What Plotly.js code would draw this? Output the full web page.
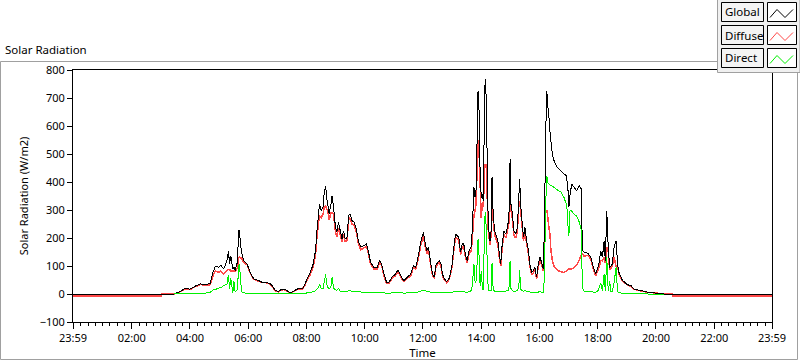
<!DOCTYPE html>
<html>
<head>
<meta charset="utf-8">
<script src="https://cdn.plot.ly/plotly-3.0.1.min.js"></script>
<style>html,body{margin:0;padding:0;background:#fff;}#chart{width:800px;height:361px;}
#chart .scatterlayer path.js-line{shape-rendering:crispEdges;}</style>
</head>
<body>
<div id="chart"></div>
<script>
// ---- data (hours after midnight; 23:59 of previous day = -1/60) ----
const timeHours = [-0.0167,3.00,3.04,3.46,3.66,3.83,4.00,4.18,4.35,4.52,4.69,4.79,4.87,4.98,5.06,5.16,5.27,5.32,5.36,5.40,5.47,5.51,5.55,5.63,5.67,5.70,5.73,5.77,5.84,5.96,6.07,6.19,6.36,6.47,6.63,6.76,6.82,6.93,7.04,7.10,7.22,7.33,7.44,7.62,7.73,7.85,7.93,8.02,8.13,8.23,8.31,8.36,8.42,8.45,8.50,8.57,8.61,8.66,8.69,8.73,8.78,8.84,8.88,8.93,8.99,9.04,9.10,9.16,9.22,9.27,9.33,9.39,9.45,9.50,9.56,9.64,9.71,9.79,9.87,9.97,10.06,10.12,10.20,10.31,10.43,10.51,10.58,10.66,10.75,10.83,10.95,11.06,11.14,11.21,11.29,11.35,11.46,11.58,11.67,11.75,11.83,11.93,12.02,12.06,12.13,12.19,12.27,12.33,12.39,12.44,12.50,12.56,12.62,12.67,12.73,12.81,12.89,12.95,13.00,13.06,13.12,13.18,13.23,13.29,13.35,13.40,13.46,13.52,13.58,13.66,13.69,13.75,13.79,13.82,13.86,13.89,13.92,13.96,14.00,14.04,14.07,14.12,14.14,14.17,14.21,14.24,14.30,14.34,14.37,14.41,14.46,14.53,14.57,14.62,14.67,14.72,14.78,14.84,14.90,14.95,14.99,15.02,15.07,15.12,15.18,15.24,15.29,15.32,15.35,15.39,15.45,15.50,15.56,15.62,15.67,15.73,15.79,15.84,15.90,15.96,16.02,16.07,16.13,16.17,16.21,16.25,16.28,16.33,16.36,16.39,16.44,16.47,16.50,16.61,16.73,16.84,16.92,16.95,16.98,17.01,17.05,17.11,17.19,17.28,17.36,17.44,17.47,17.53,17.67,17.76,17.85,17.93,18.01,18.06,18.10,18.16,18.22,18.26,18.31,18.36,18.41,18.45,18.50,18.56,18.63,18.68,18.73,18.85,18.93,19.02,19.14,19.25,19.48,19.71,19.94,20.27,20.29,20.55,20.57,23.983];

const globalWm2 = [0,0,0,0,9,20,17,28,36,33,38,77,99,96,102,90,119,152,108,137,90,95,84,115,226,229,180,150,119,107,77,54,48,42,42,36,30,12,10,14,18,12,4,14,20,18,30,54,77,107,155,226,292,321,298,310,363,387,345,321,286,321,351,310,244,220,256,226,196,226,196,202,280,286,262,256,232,185,167,173,179,155,113,95,95,119,107,71,42,42,62,71,86,71,54,48,60,71,101,95,131,190,220,190,155,167,107,71,60,101,113,119,107,71,54,45,54,77,107,167,214,208,202,149,179,179,137,119,155,169,226,381,345,369,560,726,679,440,345,357,333,726,768,702,440,250,190,226,417,286,226,202,190,143,107,179,226,214,238,274,482,321,286,226,214,238,345,411,321,274,202,238,190,155,107,77,83,95,60,107,131,113,89,240,560,726,679,625,580,548,500,488,476,452,440,429,423,400,369,310,357,393,381,369,387,375,155,149,145,131,95,71,95,120,155,131,190,119,298,167,95,100,107,167,190,107,77,48,42,33,30,18,12,7,4,0,0,0,0,0];

const diffuseWm2 = [-8,-8,0,0,8,19,16,26,34,31,33,65,82,78,82,72,85,88,88,82,83,82,80,95,128,131,128,128,112,104,75,52,46,41,40,34,28,10,8,12,16,10,3,13,19,17,28,50,70,98,140,205,260,280,272,285,310,315,305,295,265,290,290,285,225,205,235,212,185,214,186,192,265,272,250,245,222,175,158,165,170,148,107,90,90,113,101,66,38,38,57,66,80,66,50,44,55,66,95,89,122,178,205,178,145,157,100,66,56,95,106,112,100,66,50,41,50,72,100,158,203,198,192,140,170,170,130,112,146,155,195,280,300,320,450,548,520,400,270,330,310,450,464,460,330,230,175,210,310,265,212,190,178,133,99,168,212,200,225,255,357,300,270,212,200,222,315,330,300,258,190,224,178,145,99,70,76,88,54,99,122,105,82,150,290,300,280,230,214,160,120,107,100,85,80,77,82,85,88,89,89,90,95,105,120,140,143,135,138,125,88,65,85,100,120,118,130,110,167,150,85,92,98,130,100,100,72,45,40,31,28,17,11,6,4,0,0,0,-8,-8];

const directWm2 = [null,null,null,0,1,1,1,2,2,3,6,14,16,21,22,30,36,69,17,58,5,45,8,15,100,105,60,8,4,3,3,2,2,2,2,2,2,2,2,2,2,2,1,1,1,2,2,4,6,8,12,18,24,36,20,18,45,71,35,25,18,28,60,22,15,12,22,10,8,10,8,8,12,12,10,10,8,8,7,7,7,6,5,5,5,5,5,4,3,3,4,4,5,4,4,3,4,4,5,5,7,10,14,12,10,9,6,5,4,5,6,6,6,5,4,4,4,5,6,8,10,10,10,8,9,9,7,6,8,12,30,107,40,45,110,196,150,30,83,20,15,270,292,240,100,15,10,12,110,15,10,10,9,8,7,9,10,10,12,15,119,20,12,10,10,12,25,86,18,12,10,12,10,8,7,6,6,6,5,7,8,7,7,60,310,423,399,392,390,388,385,383,381,372,365,345,321,300,240,208,300,295,285,278,258,226,24,10,8,8,7,6,12,24,40,12,71,10,131,12,45,10,8,40,95,8,4,3,2,2,1,1,1,0,0,0,null,null,null,null];

const seriesNames = ['Global','Diffuse','Direct'];
const seriesColors = ['#000000','#ff4848','#00f000'];
const tickHours = [-0.0167,2,4,6,8,10,12,14,16,18,20,22,23.983];
const tickLabels = ['23:59','02:00','04:00','06:00','08:00','10:00','12:00','14:00','16:00','18:00','20:00','22:00','23:59'];

// ---- layout helpers (pixel -> paper) ----
const PL=73, PR=772, PT=70, PB=322;
const px = x => (x-PL)/(PR-PL);
const py = y => (PB-y)/(PB-PT);
const FONT = 'Noto Sans, DejaVu Sans, sans-serif';

const traces = [
  {x: timeHours, y: diffuseWm2, name: seriesNames[1], type:'scatter', mode:'lines', line:{color:seriesColors[1], width:1.5, simplify:false}},
  {x: timeHours, y: globalWm2, name: seriesNames[0], type:'scatter', mode:'lines', line:{color:seriesColors[0], width:1, simplify:false}},
  {x: timeHours, y: directWm2, name: seriesNames[2], type:'scatter', mode:'lines', connectgaps:false, line:{color:seriesColors[2], width:1, simplify:false}}
];

const shapes = [];
const annotations = [];
// outer panel frame
shapes.push({type:'rect', xref:'paper', yref:'paper', x0:px(0.5), x1:px(797.5), y0:py(359.5), y1:py(61.5), line:{color:'#a0a0a0', width:1}, layer:'below'});
// legend panel
shapes.push({type:'rect', xref:'paper', yref:'paper', x0:px(717.5), x1:px(800), y0:py(72.5), y1:py(-1), fillcolor:'#f0f0f0', line:{color:'#a0a0a0', width:1}, layer:'above'});
for (let i=0;i<3;i++){
  const top = 2 + 23*i, bot = 21 + 23*i;
  shapes.push({type:'rect', xref:'paper', yref:'paper', x0:px(721.5), x1:px(763.5), y0:py(bot+0.5), y1:py(top+0.5), fillcolor:'#f4f4f4', line:{color:'#000', width:1}, layer:'above'});
  shapes.push({type:'rect', xref:'paper', yref:'paper', x0:px(767.5), x1:px(796.5), y0:py(bot+0.5), y1:py(top+0.5), fillcolor:'#ffffff', line:{color:'#000', width:1}, layer:'above'});
  const yl = top+15.5, yh = top+7.5;
  shapes.push({type:'path', xref:'paper', yref:'paper',
    path:`M ${px(770)} ${py(yl)} L ${px(777)} ${py(yh)} L ${px(785)} ${py(yl)} L ${px(793)} ${py(yh)}`,
    line:{color:seriesColors[i], width:1}, layer:'above'});
  annotations.push({xref:'paper', yref:'paper', x:px(723), y:py(top+10), xanchor:'left', yanchor:'middle', text:seriesNames[i], showarrow:false, font:{family:FONT, size:11.5, color:'#000'}});
}

const layout = {
  width:800, height:361,
  margin:{l:PL, r:800-PR, t:PT, b:361-PB, pad:0},
  paper_bgcolor:'#ffffff', plot_bgcolor:'#ffffff',
  showlegend:false,
  font:{family:FONT, size:11, color:'#000'},
  title:{text:'Solar Radiation', x:5/800, xanchor:'left', xref:'container', y:1-50/361, yref:'container', yanchor:'middle', font:{family:FONT, size:11.5, color:'#000'}},
  xaxis:{range:[-0.0167,23.983], tickmode:'array', tickvals:tickHours, ticktext:tickLabels,
    ticks:'outside', ticklen:6, tickcolor:'#000', tickwidth:1,
    showline:true, linecolor:'#000', linewidth:1, mirror:true, showgrid:false, zeroline:false,
    tickfont:{family:FONT, size:11, color:'#000'},
    minor:{tickmode:'linear', tick0:0, dtick:0.25, ticks:'outside', ticklen:3, tickcolor:'#000', showgrid:false},
    title:{text:'Time', standoff:4, font:{family:FONT, size:11.5, color:'#000'}}},
  yaxis:{range:[-100,800], dtick:100, tick0:0, ticks:'outside', ticklen:5, tickcolor:'#000', tickwidth:1,
    showline:true, linecolor:'#000', linewidth:1, mirror:true, showgrid:false, zeroline:false,
    tickfont:{family:FONT, size:11, color:'#000'},
    title:{text:'Solar Radiation (W/m2)', standoff:8, font:{family:FONT, size:11, color:'#000'}}},
  shapes:shapes, annotations:annotations
};

Plotly.newPlot('chart', traces, layout, {staticPlot:true, displayModeBar:false});
</script>
</body>
</html>
